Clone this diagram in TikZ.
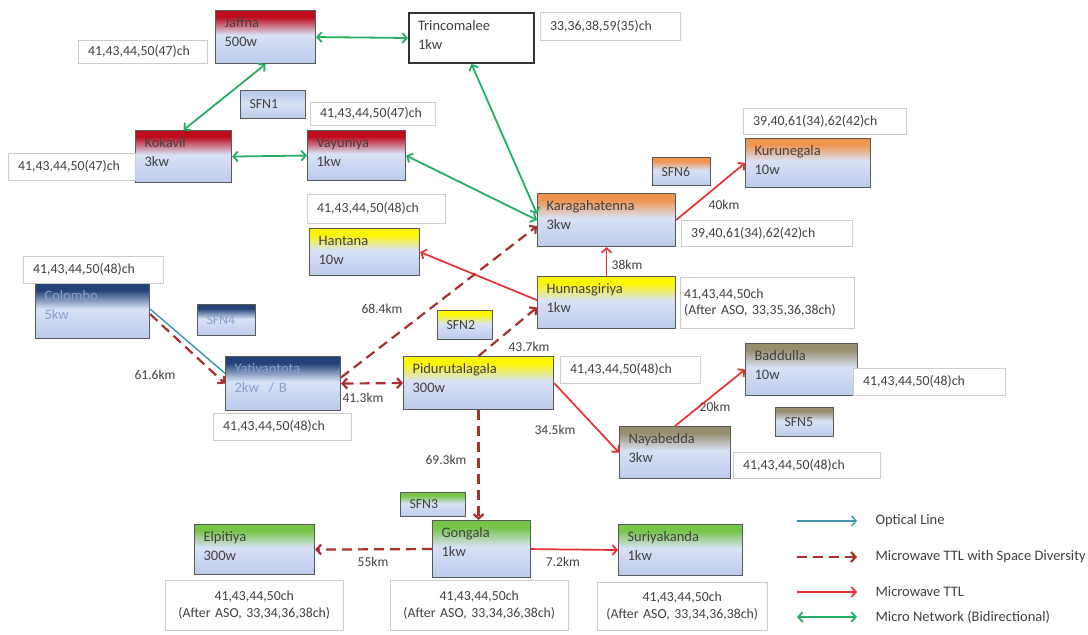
\documentclass[tikz,border=0pt]{standalone}
\usepackage{fontspec}
\setmainfont{Carlito}
\usetikzlibrary{arrows.meta}

\definecolor{stnlow}{RGB}{188,202,236}
\definecolor{stnmid}{RGB}{216,226,246}
\definecolor{stntop}{RGB}{255,255,255}
\definecolor{topred}{RGB}{190,12,28}
\definecolor{toporange}{RGB}{240,148,80}
\definecolor{topyellow}{RGB}{255,245,0}
\definecolor{topnavy}{RGB}{34,66,120}
\definecolor{navytext}{RGB}{135,160,208}
\definecolor{toptaupe}{RGB}{152,142,110}
\definecolor{topgreen}{RGB}{118,196,72}
\definecolor{colOptic}{RGB}{60,150,175}
\definecolor{colMwsd}{RGB}{170,48,48}
\definecolor{colMw}{RGB}{232,48,48}
\definecolor{colMicro}{RGB}{36,176,100}

\pgfdeclareverticalshading[stntop]{station}{100bp}{color(0bp)=(stnlow); color(25bp)=(stnlow); color(52bp)=(stnmid); color(69bp)=(stntop); color(100bp)=(stntop)}

\tikzset{
  stnbox/.style={draw=black!65, line width=1.1pt, shading=station, /utils/exec={\colorlet{stntop}{#1}}, anchor=north west, align=left, inner xsep=9pt, inner ysep=5pt},
  site/.style={stnbox=#1, text height=12pt, font=\fontsize{14.5}{19}\selectfont},
  plainsite/.style={draw=black!80, line width=2pt, fill=white, anchor=north west, align=left, inner xsep=9pt, inner ysep=5pt, text height=12pt, font=\fontsize{14.5}{19}\selectfont},
  sfn/.style={stnbox=#1},
  chbox/.style={draw=black!20, fill=white, anchor=north west, align=left, inner xsep=10pt},
  km/.style={inner sep=1pt, font=\fontsize{13.5}{16}\selectfont},
  legtxt/.style={anchor=west, font=\fontsize{14.5}{17}\selectfont},
  optic/.style={->, draw=colOptic, line width=1.4pt},
  mw/.style={->, draw=colMw, line width=1.7pt},
  mwsd/.style={->, draw=colMwsd, line width=2.2pt, dash pattern=on 10pt off 6pt},
  micro/.style={<->, draw=colMicro, line width=1.8pt},
}

\begin{document}
\begin{tikzpicture}[x=1pt, y=-1pt, >={Straight Barb[length=4.5pt, width=10pt]}, every node/.style={font=\fontsize{13.8}{16.5}\selectfont, text=black!75}]
\fill[white] (0,0) rectangle (1088,635);
\useasboundingbox (0,0) rectangle (1088,635);

\node[site=topred, text width=82pt, text depth=31pt] (jaffna) at (215,10) {Jaffna\\500w};
\node[plainsite, text width=107pt, text depth=28pt] (trinco) at (408,12) {Trincomalee\\1kw};
\node[site=topred, text width=78pt, text depth=30pt] (kokavil) at (135,130) {Kokavil\\3kw};
\node[site=topred, text width=80pt, text depth=28pt] (vavuniya) at (307,130) {Vayuniya\\1kw};
\node[site=toporange, text width=107pt, text depth=27pt] (kurunegala) at (745,138) {Kurunegala\\10w};
\node[site=toporange, text width=120pt, text depth=31pt] (karag) at (537,193) {Karagahatenna\\3kw};
\node[site=topyellow, text width=92pt, text depth=25pt] (hantana) at (309,228) {Hantana\\10w};
\node[site=topnavy, text=navytext, text width=96pt, text depth=33pt] (colombo) at (35,283) {Colombo\\5kw};
\node[site=topyellow, text width=120pt, text depth=30pt] (hunnas) at (537,276) {Hunnasgiriya\\1kw};
\node[site=topnavy, text=navytext, text width=97pt, text depth=32pt] (yatiy) at (225,356) {Yatiyantota\\2kw~~/ B};
\node[site=topyellow, text width=132pt, text depth=31pt] (pidu) at (403,356) {Pidurutalagala\\300w};
\node[site=toptaupe, text width=94pt, text depth=30pt] (baddulla) at (745,343) {Baddulla\\10w};
\node[site=toptaupe, text width=93pt, text depth=30pt] (nayabedda) at (619,426) {Nayabedda\\3kw};
\node[site=topgreen, text width=102pt, text depth=28pt] (elpitiya) at (194,524) {Elpitiya\\300w};
\node[site=topgreen, text width=80pt, text depth=35pt] (gongala) at (432,520) {Gongala\\1kw};
\node[site=topgreen, text width=106pt, text depth=29pt] (suriya) at (618,524) {Suriyakanda\\1kw};

\node[sfn=stnlow, text width=47pt, minimum height=28pt] (sfn1) at (240,90) {SFN1};
\node[sfn=topyellow, text width=37pt, minimum height=29pt] (sfn2) at (437,310) {SFN2};
\node[sfn=topgreen, text width=47pt, minimum height=24pt] (sfn3) at (400,492) {SFN3};
\node[sfn=topnavy, text=navytext, text width=40pt, minimum height=31pt] (sfn4) at (197,304) {SFN4};
\node[sfn=toptaupe, text width=40pt, minimum height=29pt] (sfn5) at (775,407) {SFN5};
\node[sfn=toporange, text width=40pt, minimum height=28pt] (sfn6) at (652,157) {SFN6};

\node[chbox, text width=109pt, minimum height=23pt] (chjaffna) at (78,40) {41,43,44,50(47)ch};
\node[chbox, text width=120pt, minimum height=28pt] (chtrinco) at (540,12) {33,36,38,59(35)ch};
\node[chbox, text width=105pt, minimum height=23pt] (chvavuniya) at (310,102) {41,43,44,50(47)ch};
\node[chbox, text width=107pt, minimum height=27pt] (chkokavil) at (8,153) {41,43,44,50(47)ch};
\node[chbox, text width=143pt, minimum height=26pt] (chkurunegala) at (743,108) {39,40,61(34),62(42)ch};
\node[chbox, text width=151pt, minimum height=26pt] (chkarag) at (681,220) {39,40,61(34),62(42)ch};
\node[chbox, text width=118pt, minimum height=29pt] (chhantana) at (307,194) {41,43,44,50(48)ch};
\node[chbox, text width=120pt, minimum height=27pt] (chcolombo) at (23,256) {41,43,44,50(48)ch};
\node[chbox, inner xsep=4pt, text width=166pt, minimum height=51pt] (chhunnas) at (680,277) {41,43,44,50ch\\(After ASO, 33,35,36,38ch)};
\node[chbox, text width=118pt, minimum height=27pt] (chyatiy) at (213,413) {41,43,44,50(48)ch};
\node[chbox, text width=120pt, minimum height=27pt] (chpidu) at (560,356) {41,43,44,50(48)ch};
\node[chbox, text width=132pt, minimum height=27pt] (chbaddulla) at (853,368) {41,43,44,50(48)ch};
\node[chbox, text width=127pt, minimum height=26pt] (chnayabedda) at (733,452) {41,43,44,50(48)ch};
\node[chbox, align=center, text width=158pt, minimum height=50pt] (chelpitiya) at (165,580) {41,43,44,50ch\\(After ASO, 33,34,36,38ch)};
\node[chbox, align=center, text width=158pt, minimum height=50pt] (chgongala) at (390,580) {41,43,44,50ch\\(After ASO, 33,34,36,38ch)};
\node[chbox, align=center, inner xsep=5pt, text width=160pt, minimum height=48pt] (chsuriya) at (597,582) {41,43,44,50ch\\(After ASO, 33,34,36,38ch)};

\node[km] (km40) at (724,205) {40km};
\node[km] (km38) at (627,265) {38km};
\node[km] (km684) at (382,309) {68.4km};
\node[km] (km437) at (529,347) {43.7km};
\node[km] (km616) at (155,375) {61.6km};
\node[km] (km413) at (363,398) {41.3km};
\node[km] (km345) at (555,430) {34.5km};
\node[km] (km20) at (715,407) {20km};
\node[km] (km693) at (446,460) {69.3km};
\node[km] (km55) at (373,562) {55km};
\node[km] (km72) at (563,562) {7.2km};

\draw[micro] (jaffna.east) -- (trinco.west);
\draw[micro] (jaffna.south) -- (kokavil.north);
\draw[micro] (kokavil.east) -- (vavuniya.west);
\draw[micro] (trinco.south) -- (karag.175);
\draw[micro] (vavuniya.east) -- (karag.west);
\draw[mw] (karag.east) -- (kurunegala.west);
\draw[mw] (hunnas.north) -- (karag.south);
\draw[mw] (hunnas.178) -- (hantana.east);
\draw[mw] (pidu.east) -- (nayabedda.west);
\draw[mw] (nayabedda.north) -- (baddulla.west);
\draw[mw] (gongala.east) -- (suriya.west);
\draw[optic, -] (colombo.2) -- (yatiy.170);
\draw[mwsd] (colombo.-3) -- (yatiy.west);
\draw[mwsd, <->] (yatiy.east) -- (pidu.west);
\draw[mwsd] (yatiy.6) -- (karag.185);
\draw[mwsd] (pidu.north) -- (hunnas.184);
\draw[mwsd] (pidu.south) -- (pidu.south |- gongala.north);
\draw[mwsd] (gongala.west) -- (elpitiya.east);

\foreach \i/\y in {1/521, 2/557, 3/592, 4/617} {
 \coordinate (lg\i a) at (797,\y);
 \coordinate (lg\i b) at (857,\y);
}
\draw[optic] (lg1a) -- (lg1b);
\draw[mwsd] (lg2a) -- (lg2b);
\draw[mw] (lg3a) -- (lg3b);
\draw[micro] (lg4a) -- (lg4b);
\node[legtxt] (lgt1) at (872,521) {Optical Line};
\node[legtxt] (lgt2) at (872,557) {Microwave TTL with Space Diversity};
\node[legtxt] (lgt3) at (872,592) {Microwave TTL};
\node[legtxt] (lgt4) at (872,617) {Micro Network (Bidirectional)};
\end{tikzpicture}
\end{document}
